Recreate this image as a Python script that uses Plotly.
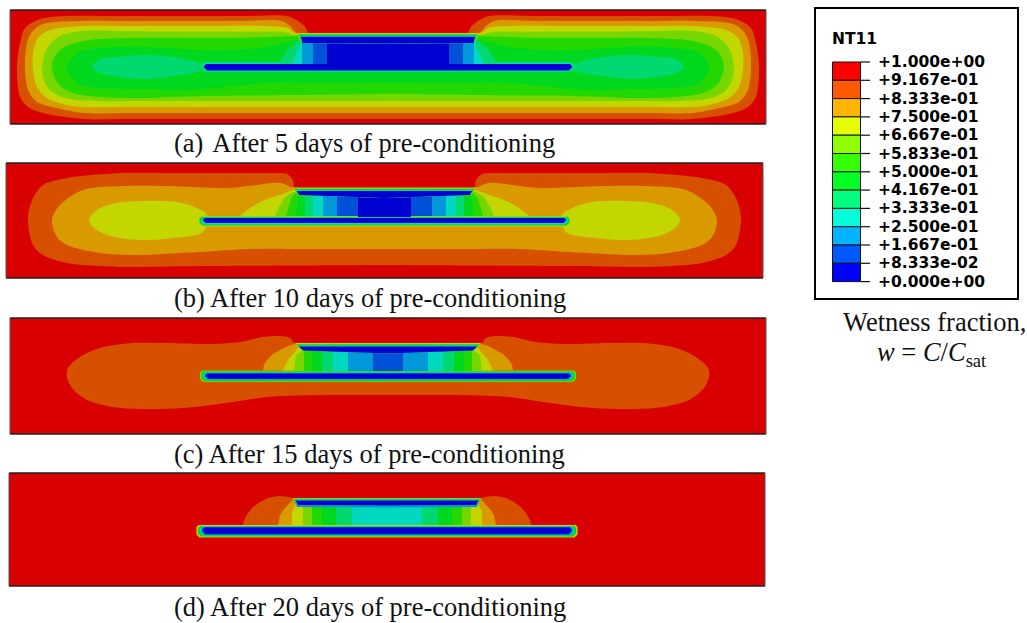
import plotly.graph_objects as go

# ---- contour colours, index = band number (0 = driest, 11 = saturated)
BAND_COLORS = ["#0000d0", "#0050d8", "#0098d8", "#00d8c0", "#00d870", "#00d820",
               "#22d800", "#76d600", "#c4d600", "#d99a00", "#d65000", "#d80000"]
LEGEND_COLORS = ["#ff0000", "#ff5a00", "#ffb400", "#e6ff00", "#90ff00", "#36ff00",
                 "#00ff24", "#00ff7e", "#00ffda", "#00b4ff", "#0058ff", "#0000ff"]
LEGEND_LABELS = ["+1.000e+00", "+9.167e-01", "+8.333e-01", "+7.500e-01", "+6.667e-01",
                 "+5.833e-01", "+5.000e-01", "+4.167e-01", "+3.333e-01", "+2.500e-01",
                 "+1.667e-01", "+8.333e-02", "+0.000e+00"]
CAPTIONS = ["(a) \u200aAfter 5 days of pre-conditioning", "(b) After 10 days of pre-conditioning",
            "(c) After 15 days of pre-conditioning", "(d) After 20 days of pre-conditioning"]
CAPTION_Y = [142.7, 297.7, 454, 606.7]

# ---- digitised contour outlines (left half of each symmetric panel)
A_BOX = (10, 766, 10, 124)
A_OUTER = [
    (10, [(308,33),(306,28),(298,21),(287,16),(67,16),(40,19),(25,28),(20,43),(17,67),(20,97),(28,107),(43,113),(83,119),(388,119)]),
    (9, [(297,33),(290,26),(282,21),(80,21),(43,24),(32,32),(27,43),(25,67),(28,90),(37,102),(57,108),(83,113),(388,113)]),
    (8, [(297,34),(287,28),(263,26),(83,26),(50,30),(38,38),(33,53),(33,70),(37,87),(47,98),(67,105),(83,107),(388,107)]),
    (7, [(297,35),(283,32),(83,31),(60,36),(48,47),(43,60),(43,77),(50,90),(65,98),(100,101),(388,101)]),
    (6, [(298,36),(233,38),(133,38),(83,41),(60,50),(52,65),(57,82),(70,92),(100,97),(143,98),(200,96),(388,94)]),
    (5, [(298,40),(267,47),(233,50),(200,50),(150,47),(100,48),(77,53),(67,67),(77,83),(100,88),(143,89),(187,90),(233,86),(267,83),(388,83)]),
]
A_BLOBS = [(4, [(203,67),(197,72),(173,76),(143,79),(113,76),(98,72),(92,67),(100,59),(117,57),(143,55),(173,57),(197,62)])]
A_COLUMNS = [
    (4, [(278,64),(287,50),(298,41)]),
    (3, [(292,64),(297,52),(301,43)]),
    (2, [(302,64),(302,43)]),
    (1, [(313,64),(313,43)]),
    (0, [(327,64),(327,43)]),
]
A_BAR = [(3, 202.5, 62.5, 71.8), (0, 204, 64, 70.5)]
A_DIE = dict(tip=297, top=33, low=(301, 43), low_c=43.5, shells=[(8, 0), (5, 1.3), (3, 2.6), (0, 3.8)])

B_BOX = (6, 763, 163, 278)
B_OUTER = [
    (10, [(295,188),(293,180),(287,174),(267,173),(123,173),(67,178),(43,185),(33,198),(28,218),(33,245),(43,255),(67,263),(123,267),(210,266),(384.5,265)]),
    (9, [(295,188),(280,183),(257,185),(230,188),(167,186),(123,186),(83,190),(60,205),(52,220),(57,237),(67,245),(100,253),(133,255),(200,252),(250,249),(384.5,249)]),
]
B_BLOBS = [(8, [(207,215),(203,232),(173,238),(140,240),(107,235),(93,227),(89,220),(97,210),(117,203),(143,201),(177,202),(197,208)])]
B_COLUMNS = [
    (8, [(240,216),(250,208),(260,202),(270,198),(280,195),(293,190)]),
    (7, [(275,216),(279,207),(285,197),(293,192)]),
    (6, [(286,216),(289,205),(292,197),(296,193)]),
    (5, [(296,216),(298,196)]),
    (4, [(305,216),(305,196)]),
    (3, [(313,216),(313,196)]),
    (2, [(323,216),(323,196)]),
    (1, [(337,216),(337,196)]),
    (0, [(358,217),(358,196)]),
]
B_BAR = [(8, 198, 216, 226.5), (5, 199.5, 216.8, 225.5), (3, 201, 217.5, 224.5), (0, 202.5, 218, 223)]
B_DIE = dict(tip=293, top=187.5, low=(298, 195), low_c=198, shells=[(8, 0), (5, 1.2), (3, 2.4), (0, 3.6)])

C_BOX = (10, 766, 318, 434)
C_OUTER = [
    (10, [(295,343),(290,338),(280,336),(263,337),(240,342),(213,344),(167,343),(133,343),(100,348),(80,357),(68,368),(67,377),(72,388),(87,400),(113,407),(140,409),(183,408),(233,402),(267,397),(333,395),(388,395)]),
]
C_BLOBS = []
C_COLUMNS = [
    (9, [(263,370.5),(264,365),(267,360),(273,354),(280,350),(288,346),(295,344)]),
    (8, [(283,370.5),(288,360),(295,352),(299,346)]),
    (7, [(294,371),(296,355),(304,350)]),
    (6, [(304,371),(304,350)]),
    (5, [(312,371),(312,350)]),
    (4, [(322,371),(322,350)]),
    (3, [(333,371),(333,350)]),
    (2, [(348,371),(348,350)]),
    (1, [(373,371),(373,350)]),
]
C_BAR = [(7, 200, 370.5, 382), (5, 201.5, 371.5, 381), (3, 203, 372.3, 380), (1, 204.5, 373, 379.3), (0, 206, 373.7, 378.8)]
C_DIE = dict(tip=295, top=343, low=(302, 350.5), low_c=353.5, shells=[(8, 0), (5, 1.2), (3, 2.4), (0, 3.6)])

D_BOX = (9, 765, 473, 586)
D_OUTER = []
D_BLOBS = []
D_COLUMNS = [
    (10, [(243,525),(244,520),(248,513),(253,507),(260,502),(268,498),(278,496),(286,496.5),(293,498)]),
    (9, [(278,525),(280,515),(284,509),(288,505),(293,499)]),
    (8, [(292,525),(292,512),(296,503)]),
    (7, [(303,525),(303,503)]),
    (6, [(312,525),(312,503)]),
    (5, [(322,525),(322,503)]),
    (4, [(336,525),(336,503)]),
    (3, [(352,525),(352,503)]),
]
D_BAR = [(8, 196.5, 525, 537.5), (5, 198, 526, 536.5), (3, 200, 526.5, 535.5), (1, 201.5, 527, 534.7), (0, 203, 527.5, 534)]
D_DIE = dict(tip=293, top=498, low=(297, 505), low_c=505.5, under=(2, 2),
             shells=[(8, 0), (5, 0.8), (3, 1.6), (0, 2.4)])

fig = go.Figure()


def densify(pts, step=40.0):
    """Add points along long straight runs so the spline stays straight there."""
    out = []
    for (xa, ya), (xb, yb) in zip(pts, pts[1:] + pts[:1]):
        n = max(1, int(max(abs(xb - xa), abs(yb - ya)) // step))
        for k in range(n):
            out.append((xa + (xb - xa) * k / n, ya + (yb - ya) * k / n))
    return out


def poly(pts, color, line=None, smooth=False):
    if smooth:
        pts = densify(pts)
    xs = [p[0] for p in pts] + [pts[0][0]]
    ys = [p[1] for p in pts] + [pts[0][1]]
    ln = dict(color=line or color, width=1 if line else 0)
    if smooth:
        ln.update(shape="spline", smoothing=0.9)
    fig.add_trace(go.Scatter(x=xs, y=ys, mode="lines", fill="toself", fillcolor=color,
                             line=ln, hoverinfo="skip", showlegend=False))


def mirror(pts, c):
    return [(2 * c - x, y) for x, y in reversed(pts)]


def panel(box, outer, blobs, columns, bar, die):
    x0, x1, y0, y1 = box
    c = (x0 + x1) / 2
    poly([(x0, y0), (x1, y0), (x1, y1), (x0, y1)], BAND_COLORS[11])
    for band, half in outer:
        pts = [(c, half[0][1])] + [(x, y) for x, y in half[:-1]] + [(c, half[-1][1])]
        poly(pts + mirror(pts, c), BAND_COLORS[band], smooth=True)
    for band, blob in blobs:
        poly(blob, BAND_COLORS[band], smooth=True)
        poly(mirror(blob, c), BAND_COLORS[band], smooth=True)
    for band, left, top, bot in bar:
        d = 2.0
        pts = [(c, top), (left + d, top), (left, top + d), (left, bot - 3), (left + 3, bot), (c, bot)]
        poly(pts + mirror(pts, c), BAND_COLORS[band])
    for band, edge in columns:
        pts = [(c, edge[0][1])] + edge + [(c, edge[-1][1])]
        poly(pts + mirror(pts, c), BAND_COLORS[band])
    if "under" in die:
        band, t = die["under"]
        pts = [(c, die["top"]), (die["tip"], die["top"]), (die["low"][0], die["low"][1] + t), (c, die["low_c"] + t)]
        poly(pts + mirror(pts, c), BAND_COLORS[band])
    for band, i in die["shells"]:
        pts = [(c, die["top"] + i), (die["tip"] + i, die["top"] + i),
               (die["low"][0] + i * 0.4, die["low"][1]), (c, die["low_c"])]
        poly(pts + mirror(pts, c), BAND_COLORS[band])
    for y in (y0, y1):
        fig.add_trace(go.Scatter(x=[x0, x1], y=[y, y], mode="lines", line=dict(color="#222222", width=1.5),
                                 hoverinfo="skip", showlegend=False))
    for x in (x0, x1):
        fig.add_trace(go.Scatter(x=[x, x], y=[y0, y1], mode="lines", line=dict(color="#555555", width=1),
                                 hoverinfo="skip", showlegend=False))


panel(A_BOX, A_OUTER, A_BLOBS, A_COLUMNS, A_BAR, A_DIE)
panel(B_BOX, B_OUTER, B_BLOBS, B_COLUMNS, B_BAR, B_DIE)
panel(C_BOX, C_OUTER, C_BLOBS, C_COLUMNS, C_BAR, C_DIE)
panel(D_BOX, D_OUTER, D_BLOBS, D_COLUMNS, D_BAR, D_DIE)

# ---- legend
LEG_X0, LEG_X1, LEG_TOP, LEG_STEP = 832.5, 860.5, 62, 18.3
for i, col in enumerate(LEGEND_COLORS):
    ya, yb = LEG_TOP + i * LEG_STEP, LEG_TOP + (i + 1) * LEG_STEP
    poly([(LEG_X0, ya), (LEG_X1, ya), (LEG_X1, yb), (LEG_X0, yb)], col, line="#111111")
annotations = []
for i, lab in enumerate(LEGEND_LABELS):
    y = LEG_TOP + i * LEG_STEP
    fig.add_trace(go.Scatter(x=[LEG_X1, 870], y=[y, y], mode="lines", line=dict(color="#111111", width=1.2),
                             hoverinfo="skip", showlegend=False))
    annotations.append(dict(x=876, y=y, text="<b>%s</b>" % lab, xanchor="left", yanchor="middle", showarrow=False,
                            font=dict(family="DejaVu Sans", size=15.5, color="#000000")))
annotations.append(dict(x=830, y=39, text="<b>NT11</b>", xanchor="left", yanchor="middle", showarrow=False,
                        font=dict(family="DejaVu Sans", size=15.5, color="#000000")))

for cap, y in zip(CAPTIONS, CAPTION_Y):
    annotations.append(dict(x=172, y=y, text=cap, xanchor="left", yanchor="middle",
                            showarrow=False, font=dict(family="Liberation Serif", size=26.5, color="#111111")))
annotations.append(dict(x=934, y=322, text="Wetness fraction,", xanchor="center", yanchor="middle",
                        showarrow=False, font=dict(family="Liberation Serif", size=26.5, color="#111111")))
annotations.append(dict(x=932, y=354, text="<i>w</i> = <i>C</i>/<i>C</i><sub>sat</sub>", xanchor="center",
                        yanchor="middle", showarrow=False,
                        font=dict(family="Liberation Serif", size=26.5, color="#111111")))

fig.update_layout(
    width=1027, height=623, margin=dict(l=0, r=0, t=0, b=0),
    paper_bgcolor="white", plot_bgcolor="white", showlegend=False,
    xaxis=dict(range=[0, 1027], visible=False, fixedrange=True),
    yaxis=dict(range=[623, 0], visible=False, fixedrange=True),
    annotations=annotations,
    shapes=[dict(type="rect", xref="x", yref="y", x0=815, x1=1018, y0=8, y1=299,
                 line=dict(color="#000000", width=2), fillcolor="rgba(0,0,0,0)")],
)
fig.write_html("out.html", post_script="document.body.style.margin='0';", config={"displayModeBar": False})
